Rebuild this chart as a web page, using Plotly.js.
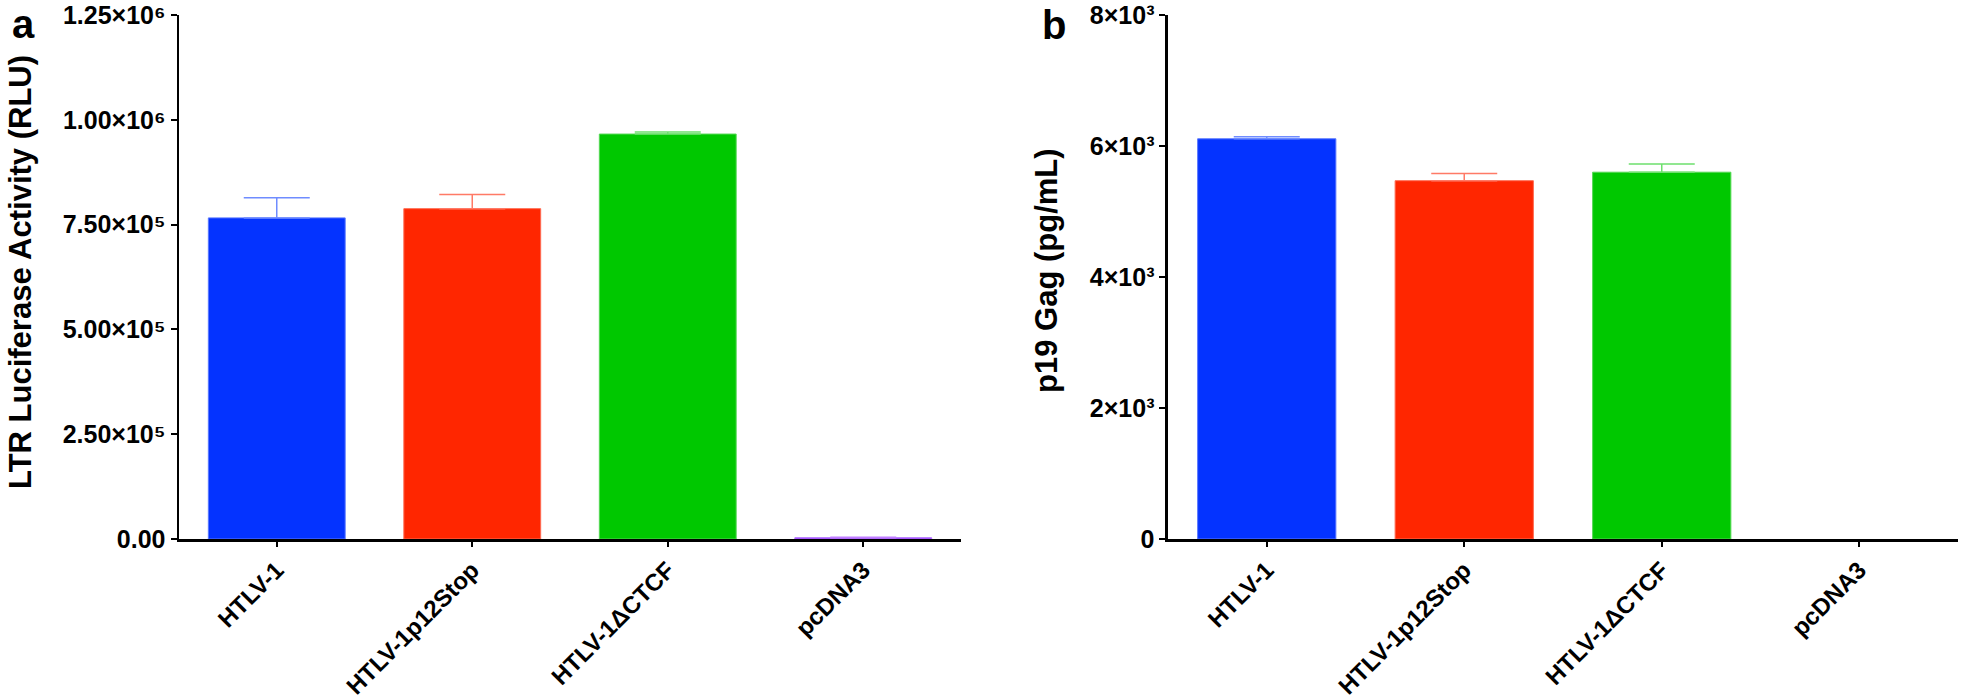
<!DOCTYPE html>
<html>
<head>
<meta charset="utf-8">
<script src="https://cdn.plot.ly/plotly-3.0.1.min.js"></script>
<style>html,body{margin:0;padding:0;background:#fff;}#chart{width:1961px;height:700px;}</style>
</head>
<body>
<div id="chart"></div>
<script>
// ---- data ----
const categories = ["HTLV-1", "HTLV-1p12Stop", "HTLV-1\u0394CTCF", "pcDNA3"];
const luciferaseMeans = [766000, 788000, 966000, 3000];
const luciferaseErrors = [48000, 34000, 5000, 1000];
const p19Means = [6110, 5470, 5600, 0];
const p19Errors = [30, 112, 127, 0];
const luciferaseTickVals = [0, 250000, 500000, 750000, 1000000, 1250000];
const luciferaseTickText = ["0.00", "2.50\u00d710\u2075", "5.00\u00d710\u2075", "7.50\u00d710\u2075", "1.00\u00d710\u2076", "1.25\u00d710\u2076"];
const p19TickVals = [0, 2000, 4000, 6000, 8000];
const p19TickText = ["0", "2\u00d710\u00b3", "4\u00d710\u00b3", "6\u00d710\u00b3", "8\u00d710\u00b3"];
const yTitleA = "LTR Luciferase Activity (RLU)";
const yTitleB = "p19 Gag (pg/mL)";

// ---- styles ----
const barColors = ["#0433FF", "#FF2600", "#00C800", "#9933FF"];
const barEdge = ["#5a78ff", "#ff6a50", "#55d855", "#b070ff"];
const errColors = ["#6f8cff", "#ff7a66", "#6ee06e", "#c080ff"];

function barTraces(means, errs, xa, ya) {
  return categories.map((c, i) => ({
    type: "bar",
    x: [c],
    y: [means[i]],
    xaxis: xa,
    yaxis: ya,
    width: 0.7,
    marker: { color: barColors[i], line: { color: barEdge[i], width: means[i] > 0 ? 1 : 0 } },
    error_y: {
      type: "data", symmetric: false, array: [errs[i]], arrayminus: [0],
      color: errColors[i], thickness: 1.5, width: 33, visible: errs[i] > 0
    },
    showlegend: false,
    hoverinfo: "x+y"
  }));
}

const traces = barTraces(luciferaseMeans, luciferaseErrors, "x", "y")
  .concat(barTraces(p19Means, p19Errors, "x2", "y2"));

const arial = "Liberation Sans, Arial, Helvetica, sans-serif";
const yTickFont = { family: arial, size: 25, color: "#000", weight: "bold" };
const xTickFont = { family: arial, size: 24, color: "#000", weight: "bold" };
const titleFont = { family: arial, size: 31, color: "#000", weight: "bold" };
const panelFont = { family: arial, size: 40, color: "#000", weight: "bold" };

const xCommon = {
  type: "category", range: [-0.5, 3.5], tickangle: -45, tickfont: xTickFont,
  showline: true, linecolor: "#000", linewidth: 2.5, ticks: "outside", ticklen: 5,
  tickwidth: 2, tickcolor: "#000", showgrid: false, zeroline: false, automargin: false,
  ticklabeloverflow: "allow"
};
const yCommon = {
  showline: true, linecolor: "#000", linewidth: 2.5, ticks: "outside", ticklen: 6,
  tickwidth: 2, tickcolor: "#000", showgrid: false, zeroline: false, tickfont: yTickFont,
  tickmode: "array", automargin: false, ticklabeloverflow: "allow"
};

const layout = {
  width: 1961, height: 700,
  margin: { l: 0, r: 0, t: 15, b: 161 },
  paper_bgcolor: "#fff", plot_bgcolor: "#fff",
  barmode: "overlay",
  xaxis: Object.assign({}, xCommon, { domain: [0.09128, 0.49006], anchor: "y" }),
  yaxis: Object.assign({}, yCommon, {
    domain: [0, 1], anchor: "x", range: [0, 1250000],
    tickvals: luciferaseTickVals, ticktext: luciferaseTickText
  }),
  xaxis2: Object.assign({}, xCommon, { domain: [0.59561, 0.99847], anchor: "y2" }),
  yaxis2: Object.assign({}, yCommon, {
    domain: [0, 1], anchor: "x2", range: [0, 8000],
    tickvals: p19TickVals, ticktext: p19TickText
  }),
  annotations: [
    { text: yTitleA, textangle: -90, xref: "paper", yref: "paper", x: 20 / 1961, y: (539 - 272) / 524,
      xanchor: "center", yanchor: "middle", showarrow: false, font: titleFont },
    { text: yTitleB, textangle: -90, xref: "paper", yref: "paper", x: 1046 / 1961, y: (539 - 271) / 524,
      xanchor: "center", yanchor: "middle", showarrow: false, font: titleFont },
    { text: "a", xref: "paper", yref: "paper", x: 10 / 1961, y: 1 + 15 / 524, xanchor: "left", yanchor: "top",
      showarrow: false, font: panelFont },
    { text: "b", xref: "paper", yref: "paper", x: 1040 / 1961, y: 1 + 14 / 524, xanchor: "left", yanchor: "top",
      showarrow: false, font: panelFont }
  ]
};

Plotly.newPlot("chart", traces, layout, { staticPlot: true, displayModeBar: false });
</script>
</body>
</html>
